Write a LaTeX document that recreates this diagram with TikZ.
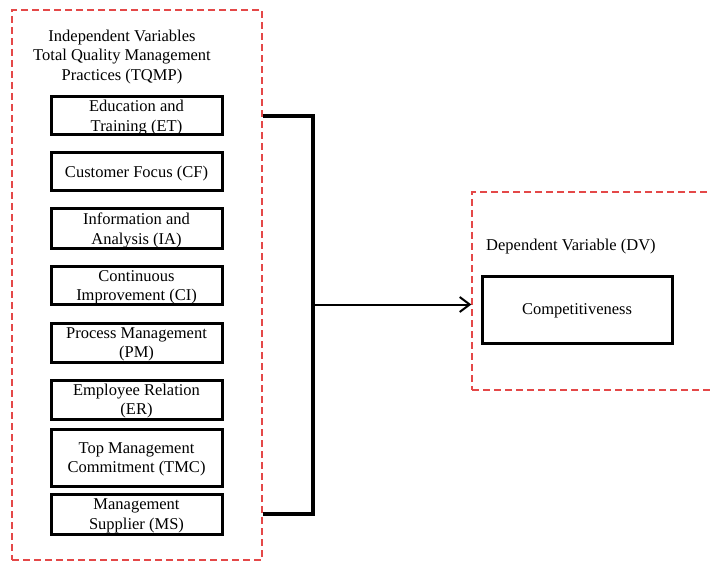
\documentclass[tikz,border=0pt]{standalone}
\usepackage{fontspec}
\setmainfont{Liberation Serif}
\usetikzlibrary{arrows.meta}
\definecolor{dashred}{RGB}{228,72,72}
\begin{document}
\begin{tikzpicture}[x=1pt,y=-1pt,
  txt/.style={font=\fontsize{16.5}{19.5}\selectfont, inner sep=0pt, align=center},
  reddash/.style={draw=dashred, line width=1.3pt, dash pattern=on 7pt off 4pt, inner sep=0pt},
  varbox/.style={txt, draw, line width=3pt, minimum width=171pt, text depth=-1.5pt},
  conn/.style={line width=3.2pt},
  arr/.style={line width=2pt, -{Straight Barb[length=10pt,width=15pt,line width=2pt]}}]
\useasboundingbox (0,0) rectangle (711,561);
% containers
\node[reddash, minimum width=250pt, minimum height=550pt] (indep) at (137,285) {};
\node[reddash, minimum width=288pt, minimum height=198pt] (dep) at (616,291) {};
% titles
\node[txt] (title) at (122,57) {Independent Variables\\Total Quality Management\\Practices (TQMP)};
\node[txt, anchor=west] (deptitle) at (486,247) {Dependent Variable (DV)};
% variable boxes
\node[varbox, minimum height=38pt] (et) at (136.5,116) {Education and\\Training (ET)};
\node[varbox, minimum height=38pt] (cf) at (136.5,172) {Customer Focus (CF)};
\node[varbox, minimum height=39pt] (ia) at (136.5,228.5) {Information and\\Analysis (IA)};
\node[varbox, minimum height=38pt] (ci) at (136.5,285.5) {Continuous\\Improvement (CI)};
\node[varbox, minimum height=39pt] (pm) at (136.5,342.5) {Process Management\\(PM)};
\node[varbox, minimum height=39pt] (er) at (136.5,399.5) {Employee Relation\\(ER)};
\node[varbox, minimum height=57pt] (tmc) at (136.5,457.5) {Top Management\\Commitment (TMC)};
\node[varbox, minimum height=40pt] (ms) at (136.5,514) {Management\\Supplier (MS)};
% dependent box
\node[varbox, minimum width=190pt, minimum height=67pt] (comp) at (577,309.5) {Competitiveness};
% connectors
\coordinate (bus) at (313,304.5);
\draw[conn] (et -| indep.east) -- (et -| bus) -- (ms -| bus) -- (ms -| indep.east);
\draw[arr] (bus) -- (bus -| dep.west);
\end{tikzpicture}
\end{document}
